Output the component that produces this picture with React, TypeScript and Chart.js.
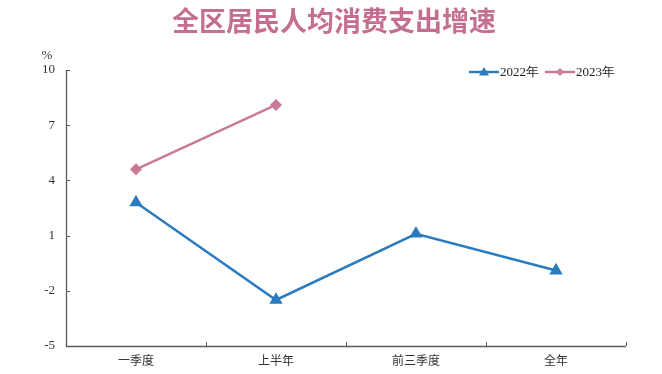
import React, { useEffect, useRef } from "react";
import { Chart, registerables } from "chart.js";

Chart.register(...registerables);

const categories = ["一季度", "上半年", "前三季度", "全年"];
const series2022 = [2.8, -2.5, 1.1, -0.9];
const series2023 = [4.6, 8.1, null, null];
const yTicks = [-5, -2, 1, 4, 7, 10];
const titleText = "全区居民人均消费支出增速";
const unitText = "%";
const label2022 = "2022年";
const label2023 = "2023年";

const BLUE = "#2b7bbf";
const PINK = "#c97a99";
const AXIS = "#5a5a5a";

const decorPlugin = {
  id: "decor",
  afterDraw(chart: any) {
    const ctx = chart.ctx;
    const ca = chart.chartArea;
    const xs = chart.scales.x;
    const ys = chart.scales.y;
    ctx.save();
    ctx.strokeStyle = AXIS;
    ctx.lineWidth = 1.3;
    ctx.beginPath();
    ctx.moveTo(ca.left + 0.5, ca.top);
    ctx.lineTo(ca.left + 0.5, ca.bottom + 0.5);
    ctx.lineTo(ca.right, ca.bottom + 0.5);
    ctx.stroke();
    ctx.lineWidth = 1;
    ys.ticks.forEach((t: any) => {
      const y = Math.round(ys.getPixelForValue(t.value)) + 0.5;
      ctx.beginPath();
      ctx.moveTo(ca.left, y);
      ctx.lineTo(ca.left + 4, y);
      ctx.stroke();
    });
    const n = categories.length;
    for (let i = 0; i <= n; i++) {
      const x = Math.round(xs.left + (i * (xs.right - xs.left)) / n) + 0.5;
      ctx.beginPath();
      ctx.moveTo(x, ca.bottom);
      ctx.lineTo(x, ca.bottom - 4);
      ctx.stroke();
    }
    ctx.fillStyle = "#c46f90";
    ctx.font = "bold 27px 'Noto Sans CJK SC'";
    ctx.textAlign = "center";
    ctx.textBaseline = "middle";
    ctx.fillText(titleText, chart.width / 2 + 3, 21);
    ctx.fillStyle = "#333";
    ctx.font = "13px 'Liberation Serif'";
    ctx.textAlign = "center";
    ctx.fillText(unitText, ca.left - 19, 56);
    const ly = ca.top + 2;
    const drawItem = (x0: number, color: string, label: string, style: string) => {
      ctx.strokeStyle = color;
      ctx.lineWidth = 2.5;
      ctx.beginPath();
      ctx.moveTo(x0, ly);
      ctx.lineTo(x0 + 30, ly);
      ctx.stroke();
      ctx.fillStyle = color;
      const cx = x0 + 15;
      ctx.beginPath();
      if (style === "triangle") {
        ctx.moveTo(cx, ly - 5);
        ctx.lineTo(cx + 5, ly + 3.5);
        ctx.lineTo(cx - 5, ly + 3.5);
      } else {
        ctx.moveTo(cx, ly - 4);
        ctx.lineTo(cx + 4, ly);
        ctx.lineTo(cx, ly + 4);
        ctx.lineTo(cx - 4, ly);
      }
      ctx.closePath();
      ctx.fill();
      ctx.fillStyle = "#222";
      ctx.font = "13px 'Liberation Serif'";
      ctx.textAlign = "left";
      ctx.textBaseline = "middle";
      ctx.fillText(label, x0 + 31, ly + 1);
    };
    drawItem(ca.right - 157, BLUE, label2022, "triangle");
    drawItem(ca.right - 81, PINK, label2023, "diamond");
    ctx.restore();
  },
};

export default function App() {
  const ref = useRef<HTMLCanvasElement | null>(null);
  useEffect(() => {
    if (!ref.current) return;
    const chart = new Chart(ref.current, {
      type: "line",
      data: {
        labels: categories,
        datasets: [
          {
            label: label2022,
            data: series2022,
            borderColor: BLUE,
            backgroundColor: BLUE,
            borderWidth: 2.5,
            pointStyle: "triangle",
            pointRadius: 5.2,
            pointHoverRadius: 5.2,
            tension: 0,
          },
          {
            label: label2023,
            data: series2023,
            borderColor: PINK,
            backgroundColor: PINK,
            borderWidth: 2.5,
            pointStyle: "rectRot",
            pointRadius: 4.3,
            pointHoverRadius: 4.3,
            tension: 0,
            spanGaps: false,
          },
        ],
      },
      options: {
        responsive: false,
        animation: false,
        layout: { padding: { top: 70, right: 36, left: 0, bottom: 0 } },
        plugins: {
          legend: { display: false },
          title: { display: false },
          tooltip: { enabled: false },
        },
        scales: {
          x: {
            type: "category",
            offset: true,
            grid: { display: false, drawTicks: false },
            border: { display: false },
            ticks: {
              color: "#333",
              font: { family: "'Noto Sans CJK SC'", size: 12 },
              padding: 7,
              maxRotation: 0,
            },
            afterFit: (s: any) => {
              s.height = 28;
            },
          },
          y: {
            min: -5,
            max: 10,
            grid: { display: false, drawTicks: false },
            border: { display: false },
            afterBuildTicks: (s: any) => {
              s.ticks = yTicks.map((v) => ({ value: v }));
            },
            ticks: {
              color: "#333",
              font: { family: "'Liberation Serif'", size: 13 },
              padding: 11,
            },
            afterFit: (s: any) => {
              s.width = 66;
            },
          },
        },
      },
      plugins: [decorPlugin],
    });
    return () => chart.destroy();
  }, []);
  return (
    <div style={{ position: "fixed", left: 0, top: 0, width: 662, height: 374, background: "#fff" }}>
      <canvas ref={ref} width={662} height={374} style={{ display: "block" }} />
    </div>
  );
}
